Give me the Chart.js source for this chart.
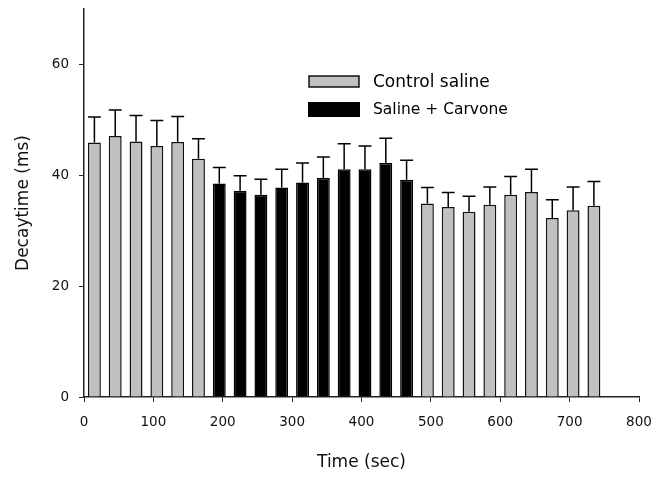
<!DOCTYPE html>
<html lang="en">
<head>
    <meta charset="UTF-8">
    <title>Decay time vs time</title>
    <script src="https://cdn.jsdelivr.net/npm/chart.js"></script>
    <style>
        body {
            margin: 0;
            background-color: white;
        }
        .chart-container {
            width: 657px;
            height: 477px;
        }
    </style>
</head>
<body>
    <div class="chart-container">
        <canvas id="decayChart"></canvas>
    </div>

    <script>
        // Valeurs (moyenne et erreur standard, en ms)
        const controlTimes = [15, 45, 75, 105, 135, 165, 495, 525, 555, 585, 615, 645, 675, 705, 735];
        const controlMeans = [45.9, 47.1, 46.1, 45.3, 46.0, 43.0, 34.9, 34.3, 33.4, 34.7, 36.5, 37.0, 32.3, 33.7, 34.5];
        const controlSem = [4.6, 4.7, 4.7, 4.6, 4.6, 3.6, 2.9, 2.6, 2.8, 3.2, 3.3, 4.1, 3.3, 4.2, 4.4];

        const carvoneTimes = [195, 225, 255, 285, 315, 345, 375, 405, 435, 465];
        const carvoneMeans = [38.5, 37.2, 36.5, 37.8, 38.7, 39.5, 41.1, 41.1, 42.2, 39.2];
        const carvoneSem = [2.9, 2.7, 2.8, 3.3, 3.5, 3.8, 4.6, 4.2, 4.5, 3.5];

        const xTicks = [0, 100, 200, 300, 400, 500, 600, 700, 800];
        const yTicks = [0, 20, 40, 60];

        const seriesLabels = ['Control saline', 'Saline + Carvone'];

        const toPoints = (xs, ys) => xs.map((x, i) => ({ x: x, y: ys[i] }));

        // barres d'erreur (vers le haut seulement)
        const errorBars = {
            id: 'errorBars',
            afterDatasetsDraw(chart) {
                const ctx = chart.ctx;
                const yScale = chart.scales.y;
                const sems = [controlSem, carvoneSem];
                const means = [controlMeans, carvoneMeans];
                ctx.save();
                ctx.strokeStyle = '#000';
                ctx.lineWidth = 1.5;
                chart.data.datasets.forEach((ds, d) => {
                    chart.getDatasetMeta(d).data.forEach((bar, i) => {
                        const top = yScale.getPixelForValue(means[d][i] + sems[d][i]);
                        const half = bar.width / 2;
                        ctx.beginPath();
                        ctx.moveTo(bar.x, bar.y);
                        ctx.lineTo(bar.x, top);
                        ctx.moveTo(bar.x - half, top);
                        ctx.lineTo(bar.x + half, top);
                        ctx.stroke();
                    });
                });
                ctx.restore();
            }
        };

        // légende placée dans la zone du graphique
        const insideLegend = {
            id: 'insideLegend',
            afterDraw(chart) {
                const ctx = chart.ctx;
                ctx.save();
                ctx.textBaseline = 'middle';
                ctx.fillStyle = '#c0c0c0';
                ctx.fillRect(309, 76, 50, 11);
                ctx.strokeStyle = '#111';
                ctx.lineWidth = 1.5;
                ctx.strokeRect(309, 76, 50, 11);
                ctx.fillStyle = '#000';
                ctx.fillRect(308, 102, 52, 15);
                ctx.font = '17px "DejaVu Sans"';
                ctx.fillText(seriesLabels[0], 373, 83);
                ctx.font = '15.5px "DejaVu Sans"';
                ctx.fillText(seriesLabels[1], 373, 110);
                ctx.restore();
            }
        };

        const ctx = document.getElementById('decayChart').getContext('2d');
        const decayChart = new Chart(ctx, {
            type: 'bar',
            data: {
                datasets: [
                    {
                        label: seriesLabels[0],
                        data: toPoints(controlTimes, controlMeans),
                        backgroundColor: '#c0c0c0',
                        borderColor: '#111',
                        borderWidth: 1.5,
                        barPercentage: 0.62,
                        categoryPercentage: 1
                    },
                    {
                        label: seriesLabels[1],
                        data: toPoints(carvoneTimes, carvoneMeans),
                        backgroundColor: '#000',
                        borderColor: '#000',
                        borderWidth: 1.5,
                        barPercentage: 0.62,
                        categoryPercentage: 1
                    }
                ]
            },
            options: {
                responsive: true,
                maintainAspectRatio: false,
                animation: false,
                grouped: false,
                layout: {
                    padding: { top: 9, right: 18, left: 0, bottom: 0 }
                },
                scales: {
                    x: {
                        type: 'linear',
                        min: 0,
                        max: 800,
                        offset: false,
                        afterBuildTicks: axis => { axis.ticks = xTicks.map(v => ({ value: v })); },
                        afterFit: axis => {
                            axis.height = 80;
                            axis.paddingLeft = 0;
                            axis.paddingRight = 0;
                        },
                        grid: {
                            offset: false,
                            drawOnChartArea: false,
                            tickLength: 5,
                            color: '#222',
                            tickWidth: 1
                        },
                        border: { color: '#222', width: 1.5 },
                        ticks: {
                            padding: 12,
                            color: '#111',
                            font: { family: 'DejaVu Sans', size: 13.5 }
                        },
                        title: {
                            display: true,
                            text: 'Time (sec)',
                            color: '#111',
                            font: { family: 'DejaVu Sans', size: 17 },
                            padding: { top: 0, bottom: 4 }
                        }
                    },
                    y: {
                        min: 0,
                        max: 70,
                        afterBuildTicks: axis => { axis.ticks = yTicks.map(v => ({ value: v })); },
                        afterFit: axis => {
                            axis.width = 84;
                            axis.paddingTop = 0;
                            axis.paddingBottom = 0;
                        },
                        grid: {
                            drawOnChartArea: false,
                            tickLength: 5,
                            color: '#222',
                            tickWidth: 1
                        },
                        border: { color: '#222', width: 1.5 },
                        ticks: {
                            padding: 10,
                            color: '#111',
                            font: { family: 'DejaVu Sans', size: 13.5 }
                        },
                        title: {
                            display: true,
                            text: 'Decaytime (ms)',
                            color: '#111',
                            font: { family: 'DejaVu Sans', size: 17 },
                            padding: { top: 13, bottom: 0 }
                        }
                    }
                },
                plugins: {
                    legend: { display: false },
                    tooltip: { enabled: false }
                }
            },
            plugins: [errorBars, insideLegend]
        });
    </script>
</body>
</html>
